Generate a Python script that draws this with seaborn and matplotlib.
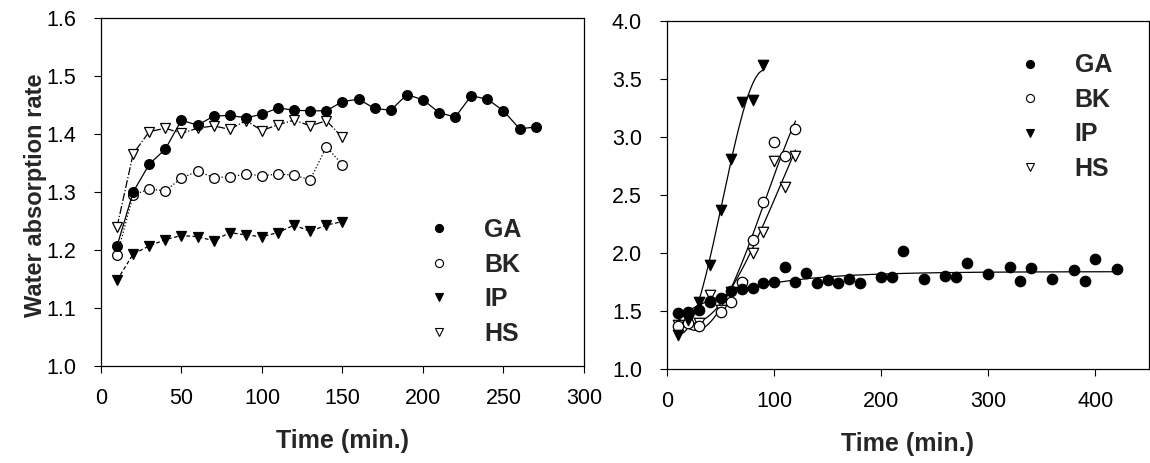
import numpy as np
import pandas as pd
import matplotlib
matplotlib.use("Agg")
import matplotlib.pyplot as plt
from matplotlib.lines import Line2D
import seaborn as sns

# ---------------- data: left panel ----------------
t_ga_left = [10, 20, 30, 40, 50, 60, 70, 80, 90, 100, 110, 120, 130, 140, 150,
             160, 170, 180, 190, 200, 210, 220, 230, 240, 250, 260, 270]
ga_left = [1.207, 1.300, 1.348, 1.374, 1.424, 1.415, 1.431, 1.432, 1.428, 1.434,
           1.445, 1.441, 1.440, 1.440, 1.456, 1.460, 1.444, 1.441, 1.468, 1.459,
           1.437, 1.429, 1.466, 1.460, 1.440, 1.409, 1.412]
t_left = [10, 20, 30, 40, 50, 60, 70, 80, 90, 100, 110, 120, 130, 140, 150]
bk_left = [1.191, 1.295, 1.305, 1.302, 1.324, 1.336, 1.325, 1.326, 1.331, 1.328,
           1.331, 1.329, 1.321, 1.378, 1.347]
ip_left = [1.148, 1.193, 1.207, 1.218, 1.225, 1.223, 1.216, 1.230, 1.226, 1.223,
           1.230, 1.243, 1.232, 1.243, 1.249]
hs_left = [1.240, 1.366, 1.404, 1.410, 1.401, 1.410, 1.414, 1.408, 1.423, 1.406,
           1.416, 1.424, 1.414, 1.423, 1.394]

# ---------------- data: right panel ----------------
t_ga_right = [10, 20, 30, 40, 50, 60, 70, 80, 90, 100, 110, 120, 130, 140, 150,
              160, 170, 180, 200, 210, 220, 240, 260, 270, 280, 300, 320, 330,
              340, 360, 380, 390, 400, 420]
ga_right = [1.48, 1.49, 1.51, 1.58, 1.61, 1.67, 1.69, 1.70, 1.74, 1.75, 1.88,
            1.75, 1.83, 1.74, 1.77, 1.74, 1.78, 1.74, 1.79, 1.79, 2.02, 1.78,
            1.80, 1.79, 1.91, 1.82, 1.88, 1.76, 1.87, 1.78, 1.85, 1.76, 1.95, 1.86]
t_ip_right = [10, 20, 30, 40, 50, 60, 70, 80, 90]
ip_right = [1.29, 1.42, 1.58, 1.90, 2.37, 2.81, 3.30, 3.32, 3.62]
t_bkhs_right = [10, 20, 30, 40, 50, 60, 70, 80, 90, 100, 110, 120]
bk_right = [1.37, 1.40, 1.37, 1.59, 1.49, 1.58, 1.75, 2.11, 2.44, 2.96, 2.84, 3.07]
hs_right = [1.38, 1.43, 1.40, 1.64, 1.51, 1.66, 1.72, 2.00, 2.18, 2.79, 2.57, 2.84]

labels = ["GA", "BK", "IP", "HS"]

sns.set_theme(style="ticks")
plt.rcParams["font.family"] = ["Liberation Sans", "DejaVu Sans"]

fig = plt.figure(figsize=(11.5, 4.63), dpi=100)
axL = fig.add_axes([0.0878, 0.2095, 0.420, 0.7516])
axR = fig.add_axes([0.580, 0.2030, 0.419, 0.7516])

MS = 7
styles = {
    "GA": dict(marker="o", mfc="black", ls="-"),
    "BK": dict(marker="o", mfc="white", ls=":"),
    "IP": dict(marker="v", mfc="black", ls=(0, (3, 2))),
    "HS": dict(marker="v", mfc="white", ls="-."),
}

left_series = {
    "GA": (t_ga_left, ga_left),
    "BK": (t_left, bk_left),
    "IP": (t_left, ip_left),
    "HS": (t_left, hs_left),
}
for name in ["HS", "IP", "BK", "GA"]:
    tx, vy = left_series[name]
    st = styles[name]
    sns.lineplot(x=tx, y=vy, ax=axL, color="black", lw=0.9,
                 linestyle=st["ls"], marker=st["marker"], markersize=MS,
                 markerfacecolor=st["mfc"], markeredgecolor="black",
                 markeredgewidth=0.9, estimator=None, sort=False)

# ---------------- right panel: scatter + fitted curves ----------------
def exp_rise_fit(x, y):
    x = np.asarray(x, float); y = np.asarray(y, float)
    best = None
    for c in np.logspace(-3, -0.5, 400):
        A = np.column_stack([np.ones_like(x), -np.exp(-c * x)])
        coef, res, *_ = np.linalg.lstsq(A, y, rcond=None)
        r = np.sum((A @ coef - y) ** 2)
        if best is None or r < best[0]:
            best = (r, coef, c)
    _, (a, b), c = best
    return lambda xx: a - b * np.exp(-c * xx)

right_series = {
    "GA": (t_ga_right, ga_right),
    "BK": (t_bkhs_right, bk_right),
    "IP": (t_ip_right, ip_right),
    "HS": (t_bkhs_right, hs_right),
}
for name in ["GA", "HS", "BK", "IP"]:
    tx, vy = right_series[name]
    tx = np.asarray(tx, float)
    xs = np.linspace(tx.min(), tx.max(), 200)
    if name == "GA":
        f = exp_rise_fit(tx, vy)
        ys = f(xs)
    else:
        p = np.polyfit(tx, vy, 3)
        ys = np.polyval(p, xs)
    sns.lineplot(x=xs, y=ys, ax=axR, color="black", lw=0.9, estimator=None, sort=False)

for name in ["HS", "BK", "IP", "GA"]:
    tx, vy = right_series[name]
    st = styles[name]
    sns.scatterplot(x=tx, y=vy, ax=axR, marker=st["marker"], s=(MS + 0.5) ** 2,
                    color=st["mfc"], edgecolor="black", linewidth=0.9, zorder=3)

# ---------------- axes formatting ----------------
axL.set_xlim(0, 300)
axL.set_ylim(1.0, 1.6)
axL.set_xticks([0, 50, 100, 150, 200, 250, 300])
axL.set_yticks(np.arange(1.0, 1.61, 0.1))
axL.set_yticklabels([f"{v:.1f}" for v in np.arange(1.0, 1.61, 0.1)])

axR.set_xlim(0, 450)
axR.set_ylim(1.0, 4.0)
axR.set_xticks([0, 100, 200, 300, 400])
axR.set_yticks(np.arange(1.0, 4.01, 0.5))
axR.set_yticklabels([f"{v:.1f}" for v in np.arange(1.0, 4.01, 0.5)])

for ax in (axL, axR):
    for sp in ax.spines.values():
        sp.set_visible(True)
        sp.set_linewidth(0.9)
        sp.set_color("black")
    ax.tick_params(direction="out", length=5, width=0.8, labelsize=15.5,
                   colors="black", top=False, right=False)
    ax.tick_params(axis="x", pad=11)
    ax.tick_params(axis="y", pad=13)
    ax.set_xlabel("Time (min.)", fontsize=18, fontweight="bold", labelpad=14)

axL.set_ylabel("Water absorption rate", fontsize=17, fontweight="bold")
axL.yaxis.set_label_coords(-0.112, 0.49)
axR.set_ylabel("")

def make_handles():
    hs = []
    for name in labels:
        st = styles[name]
        hs.append(Line2D([], [], linestyle="none", marker=st["marker"],
                         markersize=5.8, markerfacecolor=st["mfc"],
                         markeredgecolor="black", markeredgewidth=0.8, color="black"))
    return hs

legL = axL.legend(make_handles(), labels, loc="upper left",
                  bbox_to_anchor=(0.675, 0.425), frameon=False,
                  prop=dict(size=18, weight="bold"), handlelength=1.0,
                  handletextpad=1.3, labelspacing=0.42, borderpad=0, borderaxespad=0)
legR = axR.legend(make_handles(), labels, loc="upper left",
                  bbox_to_anchor=(0.727, 0.907), frameon=False,
                  prop=dict(size=18, weight="bold"), handlelength=1.0,
                  handletextpad=1.3, labelspacing=0.42, borderpad=0, borderaxespad=0)

fig.savefig("out.png", dpi=100)
